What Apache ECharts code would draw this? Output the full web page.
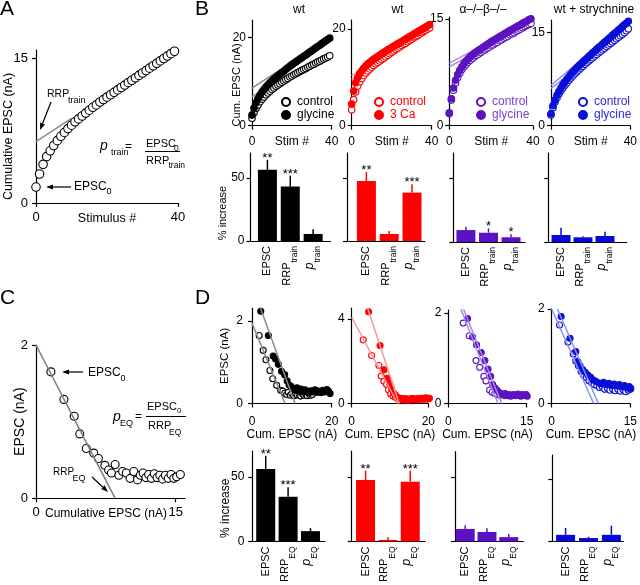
<!DOCTYPE html>
<html><head><meta charset="utf-8">
<script src="https://cdn.jsdelivr.net/npm/echarts@6/dist/echarts.min.js"></script>
<style>html,body{margin:0;padding:0;background:#fff}#c{width:640px;height:585px}</style>
</head><body><div id="c"></div>
<script>
// ================= DATA =================
// Panel A: cumulative EPSC (nA) vs stimulus # (0..39)
const cumA = [1.65,3.0,4.0,4.8,5.4,5.95,6.45,6.9,7.3,7.7,8.05,8.4,8.7,9.0,9.3,9.6,9.9,10.15,10.45,10.7,10.95,11.2,11.45,11.7,11.95,12.2,12.45,12.7,12.95,13.2,13.45,13.7,13.95,14.2,14.45,14.7,14.95,15.2,15.45,15.7];
const fitA = [[0,6.35],[10,8.75]];
// Panel C: EPSC (nA) vs cumulative EPSC (nA)
const cumC = [1.6,3.0,4.1,4.7,5.4,6.2,6.7,7.4,7.8,8.1,8.5,8.9,9.3,9.7,10.1,10.5,10.9,11.2,11.5,11.8,12.1,12.4,12.7,13.0,13.3,13.6,13.9,14.2,14.5,14.8,15.1,15.5];
const epscC = [1.65,1.29,1.07,0.84,0.65,0.59,0.52,0.43,0.37,0.33,0.44,0.3,0.35,0.33,0.26,0.35,0.24,0.3,0.33,0.27,0.31,0.26,0.32,0.27,0.3,0.25,0.3,0.26,0.31,0.26,0.28,0.31];
const fitC = [[0,2.0],[8.5,0]];
// Panel B top: cumulative EPSC (nA) per stimulus (0..39)
const b1Control = [1.7,2.9,3.9,4.7,5.4,6.0,6.5,7.0,7.4,7.8,8.2,8.55,8.9,9.2,9.5,9.8,10.1,10.4,10.7,11.0,11.25,11.5,11.75,12.0,12.25,12.5,12.7,12.95,13.2,13.45,13.7,13.9,14.15,14.4,14.6,14.85,15.1,15.3,15.55,15.8];
const b1Glycine = [2.4,4.0,5.2,6.1,6.9,7.6,8.2,8.75,9.25,9.7,10.15,10.55,10.95,11.3,11.65,12.0,12.35,12.75,13.1,13.45,13.8,14.12,14.43,14.75,15.06,15.38,15.7,16.0,16.33,16.65,16.96,17.28,17.6,17.9,18.2,18.55,18.85,19.17,19.5,19.8];
const b2Control = [3.3,5.4,7.0,8.2,9.1,9.8,10.4,10.9,11.35,11.75,12.1,12.45,12.8,13.1,13.4,13.7,14.0,14.3,14.6,14.9,15.2,15.5,15.8,16.05,16.3,16.6,16.85,17.1,17.4,17.65,17.9,18.2,18.45,18.7,19.0,19.25,19.5,19.8,20.05,20.3];
const b2Ca3 = [4.5,7.2,8.9,10.0,10.8,11.4,11.9,12.35,12.75,13.1,13.45,13.75,14.05,14.35,14.6,14.9,15.15,15.4,15.7,15.95,16.2,16.45,16.7,16.95,17.2,17.45,17.7,17.95,18.2,18.45,18.7,18.95,19.2,19.45,19.7,19.95,20.2,20.45,20.7,20.95];
const b3Control = [1.7,3.6,5.0,6.0,6.8,7.4,7.9,8.3,8.65,8.95,9.2,9.45,9.7,9.9,10.1,10.3,10.5,10.7,10.9,11.05,11.25,11.4,11.6,11.75,11.95,12.1,12.3,12.45,12.6,12.8,12.95,13.1,13.3,13.45,13.6,13.8,13.95,14.1,14.25,14.4];
const b3Glycine = [1.8,3.8,5.3,6.4,7.2,7.8,8.3,8.75,9.1,9.4,9.7,9.95,10.2,10.4,10.6,10.8,11.0,11.2,11.4,11.6,11.8,12.0,12.15,12.35,12.5,12.7,12.85,13.05,13.2,13.4,13.55,13.7,13.9,14.05,14.2,14.4,14.55,14.7,14.9,15.05];
const b4Control = [1.7,2.9,3.8,4.5,5.1,5.6,6.05,6.5,6.9,7.3,7.65,8.0,8.35,8.65,8.95,9.25,9.55,9.85,10.1,10.4,10.65,10.9,11.2,11.45,11.7,11.95,12.2,12.45,12.7,12.95,13.2,13.45,13.7,13.95,14.2,14.45,14.7,14.95,15.25,15.55];
const b4Glycine = [1.9,3.2,4.1,4.9,5.5,6.05,6.55,7.0,7.45,7.85,8.25,8.6,8.95,9.3,9.6,9.9,10.2,10.5,10.8,11.1,11.4,11.7,11.95,12.25,12.55,12.8,13.1,13.4,13.65,13.95,14.2,14.5,14.8,15.05,15.35,15.6,15.9,16.2,16.45,16.75];
const fitB1Control = [[0,6.6],[14,9.9]], fitB1Glycine = [[0,8.5],[14,12.6]];
const fitB2Control = [[0,9.6],[14,13.45]], fitB2Ca3 = [[0,10.4],[14,14.2]];
const fitB3Control = [[0,8.3],[14,10.5]], fitB3Glycine = [[0,8.8],[14,11.0]];
const fitB4Control = [[0,6.0],[14,9.4]], fitB4Glycine = [[0,6.5],[14,10.2]];
// Panel B bottom: % increase (mean, s.e.m.)
const catsB = ['EPSC','RRP_train','p_train'];
const catsD = ['EPSC','RRP_EQ','p_EQ'];
const bb1Mean = [56.6,43.3,5.6], bb1Sem = [8.0,8.7,3.7], bb1Stars = ['**','***',''];
const bb2Mean = [47.8,5.6,38.5], bb2Sem = [7.0,2.4,6.7], bb2Stars = ['**','','***'];
const bb3Mean = [9.4,7.3,3.7], bb3Sem = [2.6,3.4,2.3], bb3Stars = ['','*','*'];
const bb4Mean = [5.5,3.7,4.7], bb4Sem = [5.7,0.8,3.4], bb4Stars = ['','',''];
// Panel D top: [cumulative EPSC, EPSC] (nA)
const d1Control = [[1.8,1.65],[2.8,1.29],[3.5,1.06],[4.5,0.8],[5.2,0.6],[6.2,0.44],[7.2,0.32],[7.7,0.3],[8.2,0.25],[8.7,0.22],[9.1,0.27],[9.6,0.2],[10.0,0.24],[10.5,0.19],[10.9,0.25],[11.3,0.21],[11.8,0.23],[12.2,0.18],[12.6,0.24],[13.0,0.2],[13.5,0.22],[13.9,0.19],[14.3,0.24],[14.7,0.2],[15.1,0.22]];
const d1Glycine = [[2.2,2.24],[4.1,1.65],[5.3,1.15],[5.9,1.08],[6.6,0.95],[7.4,0.78],[8.2,0.7],[8.8,0.55],[9.3,0.45],[9.8,0.42],[10.3,0.36],[10.8,0.33],[11.3,0.38],[11.8,0.3],[12.3,0.35],[12.8,0.28],[13.3,0.33],[13.8,0.3],[14.3,0.26],[14.8,0.31],[15.3,0.28],[15.8,0.33],[16.3,0.27],[16.8,0.3],[17.3,0.26],[17.8,0.32],[18.3,0.28],[18.8,0.34],[19.2,0.3],[19.6,0.24]];
const d2Control = [[3.0,3.02],[5.2,2.28],[7.1,1.8],[7.7,1.3],[8.4,1.05],[9.1,0.9],[9.6,0.65],[10.2,0.45],[10.8,0.35],[11.4,0.3],[12.0,0.22],[12.6,0.25],[13.2,0.18],[13.8,0.22],[14.4,0.17],[15.0,0.2],[15.6,0.24],[16.2,0.18],[16.8,0.22],[17.4,0.17],[18.0,0.21],[18.6,0.25],[19.2,0.2],[19.8,0.23]];
const d2Ca3 = [[4.4,4.35],[7.4,2.75],[8.5,1.6],[9.3,1.2],[9.9,0.95],[10.4,0.7],[10.9,0.5],[11.4,0.4],[11.9,0.3],[12.4,0.26],[12.9,0.2],[13.4,0.24],[13.9,0.18],[14.4,0.22],[14.9,0.16],[15.4,0.2],[15.9,0.24],[16.4,0.18],[16.9,0.22],[17.4,0.2],[17.9,0.25],[18.4,0.2],[18.9,0.23],[19.4,0.27],[19.9,0.21],[20.3,0.25]];
const d3Control = [[2.85,1.78],[4.0,1.5],[5.3,0.95],[6.0,0.8],[6.8,0.6],[7.2,0.5],[7.9,0.3],[8.4,0.25],[8.9,0.22],[9.4,0.2],[9.9,0.18],[10.4,0.2],[10.9,0.17],[11.4,0.19],[11.9,0.16],[12.4,0.18],[12.9,0.17],[13.4,0.19],[13.9,0.16],[14.4,0.18]];
const d3Glycine = [[3.7,1.88],[4.65,1.47],[5.4,1.3],[6.3,1.13],[7.0,0.95],[7.6,0.76],[8.1,0.6],[8.5,0.42],[8.9,0.35],[9.3,0.3],[9.7,0.25],[10.1,0.22],[10.5,0.2],[10.9,0.22],[11.3,0.18],[11.7,0.2],[12.1,0.17],[12.5,0.2],[12.9,0.18],[13.3,0.21],[13.7,0.17],[14.1,0.2],[14.5,0.18],[14.9,0.2],[15.1,0.16]];
const d4Control = [[1.5,1.66],[3.1,1.3],[4.1,1.05],[4.6,0.9],[5.1,0.8],[5.6,0.68],[6.1,0.6],[6.6,0.55],[7.1,0.48],[7.6,0.44],[8.1,0.4],[8.6,0.38],[9.1,0.34],[9.6,0.36],[10.1,0.3],[10.6,0.33],[11.1,0.28],[11.6,0.31],[12.1,0.27],[12.6,0.3],[13.1,0.26],[13.6,0.29],[14.1,0.25],[14.6,0.28],[15.0,0.3]];
const d4Glycine = [[1.8,1.84],[3.5,1.38],[4.6,1.1],[5.0,0.88],[5.4,0.8],[5.9,0.72],[6.4,0.66],[6.9,0.6],[7.4,0.56],[7.9,0.5],[8.4,0.47],[8.9,0.44],[9.4,0.42],[9.9,0.45],[10.4,0.4],[10.9,0.43],[11.4,0.38],[11.9,0.41],[12.4,0.37],[12.9,0.4],[13.4,0.35],[13.9,0.38],[14.4,0.33],[14.8,0.36],[15.1,0.32]];
const fitD1Control = [[0,1.95],[8.3,0]], fitD1Glycine = [[2.0,2.35],[10.8,0]];
const fitD2Control = [[0,4.1],[12.0,0]], fitD2Ca3 = [[4.1,4.55],[12.4,0]];
const fitD3Control = [[2.2,2.15],[9.5,0]], fitD3Glycine = [[2.7,2.15],[10.2,0]];
const fitD4Control = [[0,2.0],[8.0,0]], fitD4Glycine = [[1.1,2.0],[8.9,0]];
// Panel D bottom
const db1Mean = [56,34.6,8], db1Sem = [10.3,7.4,2.3], db1Stars = ['**','***',''];
const db2Mean = [47.5,1.2,46.3], db2Sem = [7.3,2.0,8.5], db2Stars = ['**','','***'];
const db3Mean = [9.8,7.4,3.4], db3Sem = [2.9,2.9,2.5], db3Stars = ['','',''];
const db4Mean = [5.4,2.8,5.4], db4Sem = [5.6,1.0,7.4], db4Stars = ['','',''];
// Tick values
const ticksA = {x:[0,40], y:[0,15]}, ticksC = {x:[0,15], y:[0,2]};
const ticksBy = [[0,20],[0,20],[0,15],[0,15]], ticksBx = [0,40];
const ticksDy = [[0,2],[0,4],[0,2],[0,2]], ticksDx = [[0,20],[0,20],[0,15],[0,15]];
const ticksBar = [0,50];

// ================= FONTS =================
function hasFont(name){
  const c=document.createElement('canvas').getContext('2d'); const t='EPSC abcdefghij 0123';
  c.font='40px monospace'; const w0=c.measureText(t).width;
  c.font='40px "'+name+'", monospace'; const w1=c.measureText(t).width;
  return Math.abs(w0-w1)>0.5;
}
const NARROW = hasFont('Liberation Sans Narrow');
const FF = NARROW ? '"Liberation Sans Narrow", "Liberation Sans", Arial, sans-serif' : '"Liberation Sans", Arial, sans-serif';
const K = NARROW ? 1.2 : 1;
const fs = s => Math.round(s*K*10)/10;

// ================= COLORS =================
const C = {
  k:{mark:'#000000', line:'#8c8c8c', text:'#000000', bar:'#000000'},
  r:{mark:'#ff0000', line:'#f59a9a', text:'#ff0000', bar:'#ff0000'},
  p:{mark:'#5c14bf', line:'#a98ae6', text:'#7a3fd6', bar:'#5a12c4'},
  b:{mark:'#0a10d6', line:'#8b8ff2', text:'#2a2ae0', bar:'#0808d8'}
};

// ================= LAYOUT =================
const grids = [
  {left:36, top:50, width:142, height:153},          //0 A
  {left:36, top:345, width:149, height:153.3},       //1 C
  {left:252, top:20, width:79.7, height:105.7},      //2 B1
  {left:351.7, top:20, width:80, height:105.7},      //3 B2
  {left:449.3, top:17, width:83.7, height:108.7},    //4 B3
  {left:551, top:20, width:84, height:105.7},        //5 B4
  {left:250.5, top:153, width:80, height:88},        //6 Bbar1
  {left:347, top:153, width:78, height:88},          //7 Bbar2
  {left:453.3, top:153, width:71.7, height:89},      //8 Bbar3
  {left:548.3, top:153, width:78.4, height:89},      //9 Bbar4
  {left:252, top:308.3, width:79.7, height:95.2},    //10 D1
  {left:351.7, top:308, width:76.6, height:95.5},    //11 D2
  {left:448.3, top:310, width:78.4, height:93.5},    //12 D3
  {left:551.7, top:309, width:81.6, height:94.5},    //13 D4
  {left:252.3, top:451, width:72.7, height:95.7},    //14 Dbar1
  {left:351.7, top:451, width:73.3, height:95.7},    //15 Dbar2
  {left:455, top:451.7, width:68.3, height:95.6},    //16 Dbar3
  {left:552.3, top:455, width:71, height:91}         //17 Dbar4
].map(g=>Object.assign({containLabel:false}, g));

function isObj(o){return o && typeof o==='object' && !Array.isArray(o);}
function merge(a,b){ const r=Object.assign({},a); for(const k in b){ r[k]= isObj(a[k])&&isObj(b[k]) ? merge(a[k],b[k]) : b[k]; } return r; }

function axis(g, min, max, ticks, extra){
  const base = {
    type:'value', gridIndex:g, min, max, scale:false,
    axisLine:{show:true, onZero:false, lineStyle:{color:'#000', width:1.2}},
    axisTick:{show:true, length:4, customValues:ticks, lineStyle:{color:'#000', width:1.2}},
    axisLabel:{show:true, customValues:ticks, color:'#000', fontSize:fs(12), fontFamily:FF, margin:7, hideOverlap:false},
    splitLine:{show:false},
    nameLocation:'middle', nameMoveOverlap:false,
    nameTextStyle:{color:'#000', fontFamily:FF, fontSize:fs(12)}
  };
  return merge(base, extra||{});
}

const xAxes = [], yAxes = [];
// A
xAxes.push(axis(0,0,40,ticksA.x,{name:'Stimulus #', nameGap:9, nameTextStyle:{fontSize:fs(12.5), verticalAlign:'top'}, axisLabel:{fontSize:fs(13), margin:8}}));
yAxes.push(axis(0,0,15.83,ticksA.y,{name:'Cumulative EPSC (nA)', nameGap:21, nameTextStyle:{fontSize:fs(12.5), padding:[0,20,0,0]}, axisLabel:{fontSize:fs(13), margin:8}}));
// C
xAxes.push(axis(1,0,16,ticksC.x,{name:'Cumulative EPSC (nA)', nameGap:9, nameTextStyle:{fontSize:fs(12), verticalAlign:'top', padding:[0,9,0,0]}, axisLabel:{fontSize:fs(13), margin:8}}));
yAxes.push(axis(1,0,2,ticksC.y,{name:'EPSC (nA)', nameGap:9, nameTextStyle:{fontSize:fs(14)}, axisLabel:{fontSize:fs(13), margin:8}}));
// B top
const bYmax = [23.9,21.9,15.3,16.97];
for(let i=0;i<4;i++){
  xAxes.push(axis(2+i,0,40,ticksBx,{name:'Stim #', nameGap:10, nameTextStyle:{verticalAlign:'top'}, axisLabel:{margin:10}}));
  yAxes.push(axis(2+i,0,bYmax[i],ticksBy[i], i===0 ? {name:'Cum. EPSC (nA)', nameGap:10, nameTextStyle:{fontSize:fs(11), padding:[0,24,0,0]}, axisLabel:{margin:6}} : {axisLabel:{margin:6}}));
}
// bar axes helper
function richCat(c){
  if(c.indexOf('RRP_')===0) return '{mm|RRP}{s|'+c.slice(4)+'}';
  if(c.indexOf('p_')===0) return '{i|p}{s|'+c.slice(2)+'}';
  return '{m|'+c+'}';
}
function barX(g,min,max,cats){
  return axis(g,min,max,[0,1,2],{axisTick:{show:false}, axisLabel:{rotate:90, margin:5, formatter:v=>richCat(cats[Math.round(v)]),
    rich:{m:{fontSize:fs(11), fontFamily:FF, color:'#000'},
          mm:{fontSize:fs(11), fontFamily:FF, color:'#000', padding:[0,0,7,0]},
          i:{fontSize:fs(12.5), fontFamily:FF, fontStyle:'italic', color:'#000', padding:[0,0,7,0]},
          s:{fontSize:fs(8.5), fontFamily:FF, color:'#000', padding:[9,0,0,0]}}}});
}
const bbRange = [[-0.74,2.76],[-0.85,2.57],[-0.56,2.62],[-0.58,2.99]];
for(let i=0;i<4;i++){
  xAxes.push(barX(6+i,bbRange[i][0],bbRange[i][1],catsB));
  yAxes.push(axis(6+i,0,70,ticksBar, i===0 ? {name:'% increase', nameGap:22, nameTextStyle:{fontSize:fs(11), padding:[0,32,0,0]}, axisLabel:{margin:6}} : {axisLabel:{show:false}}));
}
// D top
const dXmax = [20,20,15,15], dYmax = [2.31,4.53,2.07,2.0];
for(let i=0;i<4;i++){
  xAxes.push(axis(10+i,0,dXmax[i],ticksDx[i],{name:'Cum. EPSC (nA)', nameGap:25, nameTextStyle:{verticalAlign:'top'}, axisLabel:{margin:12}}));
  yAxes.push(axis(10+i,0,dYmax[i],ticksDy[i], i===0 ? {name:'EPSC (nA)', nameGap:21, nameTextStyle:{fontSize:fs(11.5)}, axisLabel:{margin:9}} : {axisLabel:{margin:7}}));
}
// D bars
const dbRange = [[-0.6,2.65],[-0.62,2.66],[-0.47,2.67],[-0.58,2.52]];
for(let i=0;i<4;i++){
  xAxes.push(barX(14+i,dbRange[i][0],dbRange[i][1],catsD));
  yAxes.push(axis(14+i,0,70,ticksBar, i===0 ? {name:'% increase', nameGap:21, nameTextStyle:{fontSize:fs(12), padding:[0,24,0,0]}, axisLabel:{margin:8}} : {axisLabel:{show:false}}));
}

// ================= SERIES =================
const series = [];
function scatter(g, data, color, filled, size, name, z){
  series.push({type:'scatter', name, xAxisIndex:g, yAxisIndex:g, data, symbol:'circle', symbolSize:size, clip:false, z:z||3,
    itemStyle:{color: filled?color:'#ffffff', borderColor:color, borderWidth:1.1, opacity:1}, emphasis:{disabled:true}, silent:true});
}
function fit(g, data, color, z, w){
  series.push({type:'line', xAxisIndex:g, yAxisIndex:g, data, symbol:'none', showSymbol:false, clip:true, z:z||2,
    lineStyle:{color, width:w||1.5}, emphasis:{disabled:true}, silent:true});
}
const idx = arr => arr.map((v,i)=>[i,v]);
// A
fit(0, fitA, '#8c8c8c', 2, 1.6);
scatter(0, idx(cumA), '#000', false, 8.5);
// C
scatter(1, cumC.map((x,i)=>[x, epscC[i]]), '#000', false, 8);
fit(1, fitC, '#808080', 4, 1.6);
// B top
const bSets = [
  [b1Control,b1Glycine,fitB1Control,fitB1Glycine,C.k,'glycine'],
  [b2Control,b2Ca3,fitB2Control,fitB2Ca3,C.r,'3 Ca'],
  [b3Control,b3Glycine,fitB3Control,fitB3Glycine,C.p,'glycine'],
  [b4Control,b4Glycine,fitB4Control,fitB4Glycine,C.b,'glycine']
];
bSets.forEach((s,i)=>{
  const g=2+i;
  fit(g, s[2], s[4].line, 2); fit(g, s[3], s[4].line, 2);
  scatter(g, idx(s[0]), s[4].mark, false, 6.5, 'control#'+i, 3);
  scatter(g, idx(s[1]), s[4].mark, true, 6.5, s[5]+'#'+i, 4);
});
// bars
function bars(g, means, sems, stars, color){
  series.push({type:'bar', xAxisIndex:g, yAxisIndex:g, data: means.map((v,i)=>[i,v]), barWidth:19, itemStyle:{color}, silent:true, z:2});
  series.push({type:'custom', xAxisIndex:g, yAxisIndex:g, data: means.map((v,i)=>[i,v,v+sems[i]]), z:3, silent:true,
    renderItem:(params, api)=>{
      const p0=api.coord([api.value(0),api.value(1)]), p1=api.coord([api.value(0),api.value(2)]);
      const ch=[{type:'line', shape:{x1:p0[0],y1:p0[1],x2:p1[0],y2:p1[1]}, style:{stroke:color, lineWidth:1.5}}];
      const st=stars[params.dataIndex];
      if(st) ch.push({type:'text', x:p1[0], y:p1[1]+5, style:{text:st, fill:'#000', fontSize:fs(13), fontFamily:FF, align:'center', verticalAlign:'bottom'}});
      return {type:'group', children:ch};
    }});
}
bars(6, bb1Mean, bb1Sem, bb1Stars, C.k.bar);
bars(7, bb2Mean, bb2Sem, bb2Stars, C.r.bar);
bars(8, bb3Mean, bb3Sem, bb3Stars, C.p.bar);
bars(9, bb4Mean, bb4Sem, bb4Stars, C.b.bar);
// D top
const dSets = [
  [d1Control,d1Glycine,fitD1Control,fitD1Glycine,C.k],
  [d2Control,d2Ca3,fitD2Control,fitD2Ca3,C.r],
  [d3Control,d3Glycine,fitD3Control,fitD3Glycine,C.p],
  [d4Control,d4Glycine,fitD4Control,fitD4Glycine,C.b]
];
dSets.forEach((s,i)=>{
  const g=10+i;
  scatter(g, s[0], s[4].mark, false, 6, undefined, 3);
  scatter(g, s[1], s[4].mark, true, 6, undefined, 3);
  fit(g, s[2], s[4].line, 5); fit(g, s[3], s[4].line, 5);
});
bars(14, db1Mean, db1Sem, db1Stars, C.k.bar);
bars(15, db2Mean, db2Sem, db2Stars, C.r.bar);
bars(16, db3Mean, db3Sem, db3Stars, C.p.bar);
bars(17, db4Mean, db4Sem, db4Stars, C.b.bar);

// ================= LEGENDS =================
const legX = [281, 374, 476, 578];
const legends = bSets.map((s,i)=>({
  data:['control#'+i, s[5]+'#'+i], left:legX[i], top:96, orient:'vertical', padding:0,
  itemWidth:8, itemHeight:8, itemGap:1, icon:'circle', selectedMode:false,
  formatter:n=>n.split('#')[0],
  textStyle:{color:s[4].text, fontSize:fs(12), fontFamily:FF, padding:[0,0,0,2]}
}));

// ================= ANNOTATIONS =================
function T(x,y,text,size,o){ o=o||{}; return {type:'text', x, y, z:100, silent:true,
  style:{text, fill:o.fill||'#000', fontSize:fs(size), fontFamily:FF, fontStyle:o.italic?'italic':'normal', align:o.align||'left', verticalAlign:'middle'}}; }
function Ln(x1,y1,x2,y2,w){ return {type:'line', z:100, silent:true, shape:{x1,y1,x2,y2}, style:{stroke:'#000', lineWidth:w||1.2}}; }
function arrow(x1,y1,x2,y2){
  const a=Math.atan2(y2-y1,x2-x1), h=7, w=2.6;
  const bx=x2-h*Math.cos(a), by=y2-h*Math.sin(a), nx=-Math.sin(a), ny=Math.cos(a);
  return [Ln(x1,y1,bx,by,1.2), {type:'polygon', z:100, silent:true, shape:{points:[[x2,y2],[bx+w*nx,by+w*ny],[bx-w*nx,by-w*ny]]}, style:{fill:'#000'}}];
}
const graphic = [
  T(0,9,'A',21), T(195,9,'B',21), T(0,298,'C',21), T(195,298,'D',21),
  T(299,10,'wt',12,{align:'center'}), T(397.5,10,'wt',12,{align:'center'}),
  T(483,10,'α–/–β–/–',12,{align:'center'}), T(594,10,'wt + strychnine',12,{align:'center'}),
  // Panel A
  T(47,94,'RRP',10.5), T(68,101,'train',9), ...arrow(51,102,40,130),
  T(74,187,'EPSC',12), T(106.5,192,'0',9), ...arrow(71,187,46,187),
  T(100,146,'p',14,{italic:true}), T(111,153,'train',9), T(125,147,'=',12),
  T(146,143.5,'EPSC',11), T(174,148.5,'0',8.5), Ln(145,151.5,180,151.5,1), T(146,160.5,'RRP',11), T(168.5,166,'train',8.5),
  // Panel C
  ...arrow(83,372,62,372), T(88,372.5,'EPSC',12), T(120.5,379,'0',9),
  T(113,417,'p',14,{italic:true}), T(120,424,'EQ',9), T(135,417,'=',12),
  T(147,407,'EPSC',11), T(177,411,'0',8), Ln(146,416.5,186,416.5,1), T(148,426,'RRP',11), T(169,433,'EQ',8.5),
  T(53,472,'RRP',10), T(72.5,479,'EQ',9), ...arrow(92,477,108,492)
];

const chart = echarts.init(document.getElementById('c'), null, {renderer:'canvas'});
chart.setOption({
  animation:false, backgroundColor:'#fff',
  textStyle:{fontFamily:FF},
  grid:grids, xAxis:xAxes, yAxis:yAxes, series, legend:legends, graphic
});
</script></body></html>
